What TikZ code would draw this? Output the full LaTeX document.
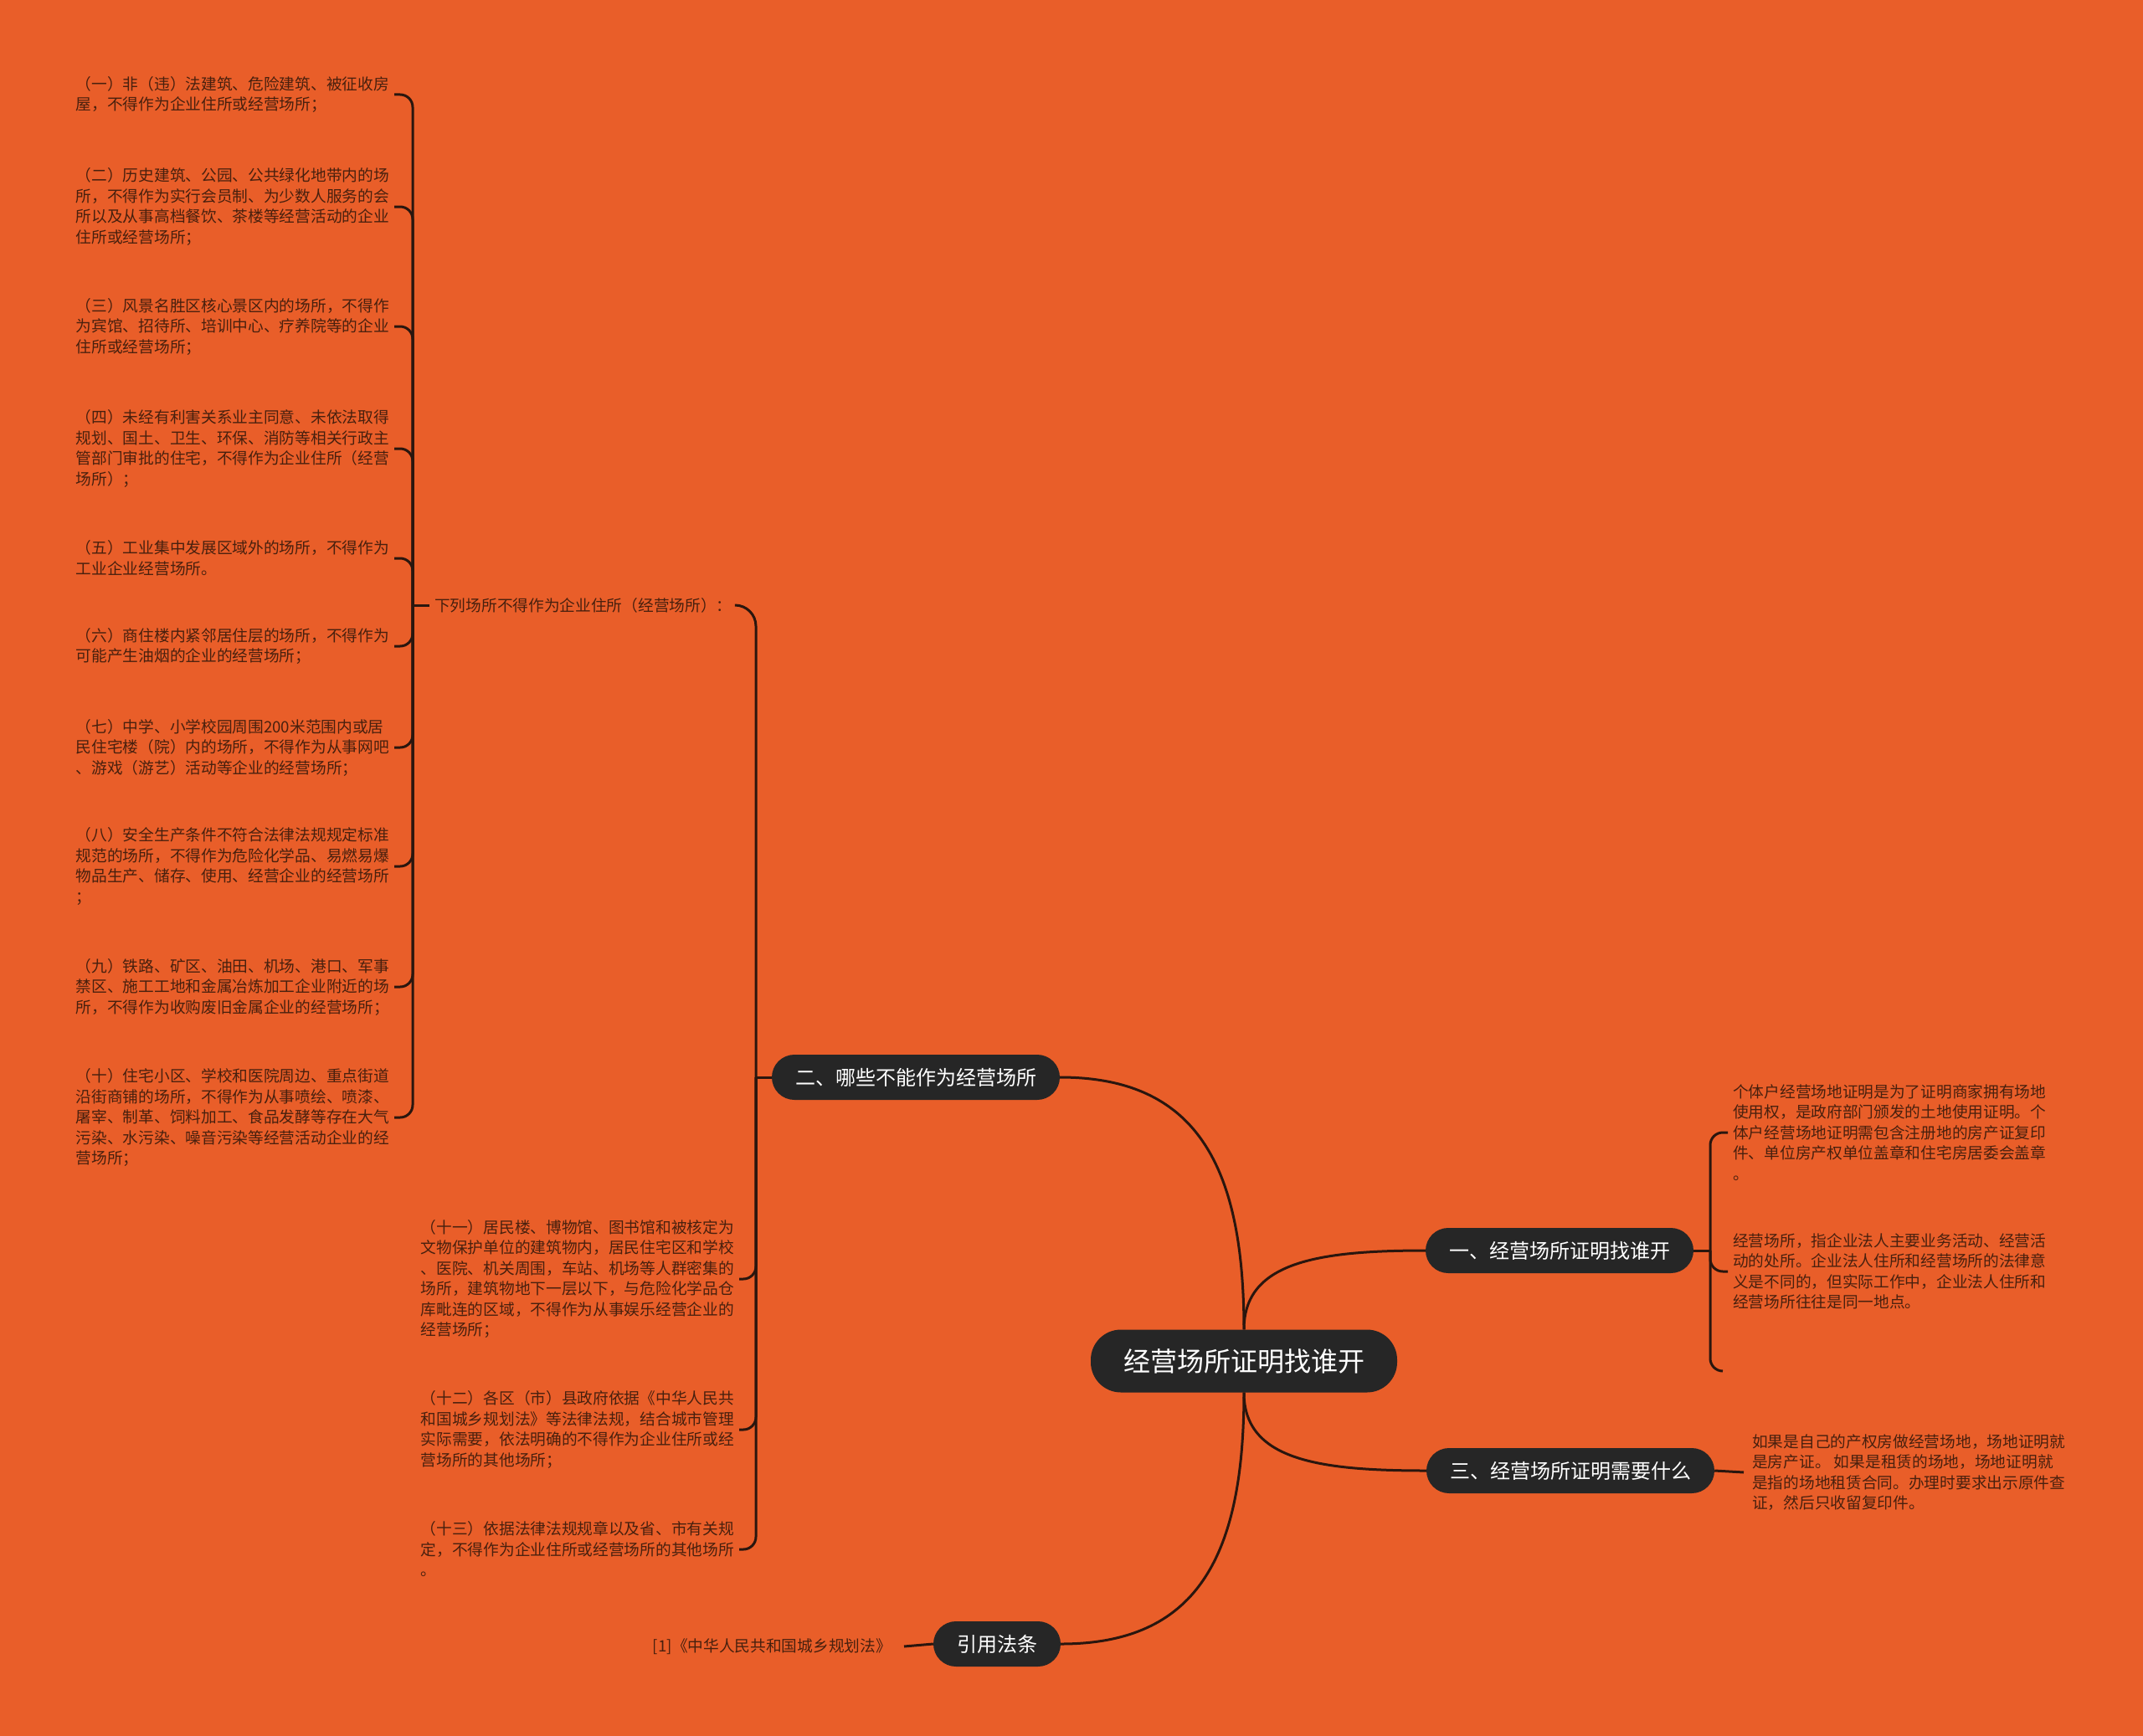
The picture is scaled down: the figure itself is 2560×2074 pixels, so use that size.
\documentclass[tikz,border=0pt]{standalone}
\usepackage{fontspec}
\newfontfamily\cjk{Noto Sans CJK SC}
\definecolor{bgorange}{RGB}{233,94,41}
\definecolor{boxgray}{RGB}{38,38,38}
\definecolor{leafbrown}{RGB}{72,32,14}
\definecolor{linkdark}{RGB}{42,22,14}

\begin{document}
\begin{tikzpicture}[x=1pt,y=-1pt,
  topic/.style={fill=boxgray,text=white,rounded corners=27pt,minimum height=54pt,inner xsep=28pt,font=\cjk\fontsize{24}{28}\selectfont},
  leaf/.style={text=leafbrown,align=left,inner xsep=6pt,inner ysep=0pt,font=\cjk\fontsize{18.7}{24.5}\selectfont},
  link/.style={draw=linkdark,line width=3pt,rounded corners=15pt}]
\useasboundingbox (0,0) rectangle (2560,2074);
\path[fill=bgorange] (0,0) rectangle (2560,2074);

% main topic and branches
\node[topic,rounded corners=36pt,minimum height=75pt,inner xsep=39pt,font=\cjk\fontsize{32}{36}\selectfont] (root) at (1486,1626) {经营场所证明找谁开};
\node[topic] (erbr) at (1094,1287) {二、哪些不能作为经营场所};
\node[topic] (yibr) at (1863,1494) {一、经营场所证明找谁开};
\node[topic] (sanbr) at (1876,1757) {三、经营场所证明需要什么};
\node[topic] (refbr) at (1191,1964) {引用法条};

\draw[link] (erbr.east) .. controls +(160,0) and +(0,-200) .. (root.north);
\draw[link] (root.north) .. controls +(0,-80) and +(-130,0) .. (yibr.west);
\draw[link] (root.south) .. controls +(0,80) and +(-130,0) .. (sanbr.west);
\draw[link] (refbr.east) .. controls +(160,0) and +(0,200) .. (root.south);

% branch two
\coordinate (hubB) at (903,1287);
\node[leaf,anchor=west] (xialie) at (513,723) {下列场所不得作为企业住所（经营场所）：};
\node[leaf,anchor=east] (s11) at (883,1528) {（十一）居民楼、博物馆、图书馆和被核定为\\文物保护单位的建筑物内，居民住宅区和学校\\、医院、机关周围，车站、机场等人群密集的\\场所，建筑物地下一层以下，与危险化学品仓\\库毗连的区域，不得作为从事娱乐经营企业的\\经营场所；};
\node[leaf,anchor=east] (s12) at (883,1708) {（十二）各区（市）县政府依据《中华人民共\\和国城乡规划法》等法律法规，结合城市管理\\实际需要，依法明确的不得作为企业住所或经\\营场所的其他场所；};
\node[leaf,anchor=east] (s13) at (883,1851) {（十三）依据法律法规规章以及省、市有关规\\定，不得作为企业住所或经营场所的其他场所\\。};
\draw[link] (erbr.west) -- (hubB);
\draw[link,rounded corners=25pt] (hubB) |- (xialie.east);
\foreach \k in {s11,s12,s13}
  \draw[link] (hubB) |- (\k.east);

% items under xialie
\coordinate (hubA) at (493,723);
\node[leaf,anchor=east] (s1) at (471,113) {（一）非（违）法建筑、危险建筑、被征收房\\屋，不得作为企业住所或经营场所；};
\node[leaf,anchor=east] (s2) at (471,247) {（二）历史建筑、公园、公共绿化地带内的场\\所，不得作为实行会员制、为少数人服务的会\\所以及从事高档餐饮、茶楼等经营活动的企业\\住所或经营场所；};
\node[leaf,anchor=east] (s3) at (471,390) {（三）风景名胜区核心景区内的场所，不得作\\为宾馆、招待所、培训中心、疗养院等的企业\\住所或经营场所；};
\node[leaf,anchor=east] (s4) at (471,536) {（四）未经有利害关系业主同意、未依法取得\\规划、国土、卫生、环保、消防等相关行政主\\管部门审批的住宅，不得作为企业住所（经营\\场所）；};
\node[leaf,anchor=east] (s5) at (471,667) {（五）工业集中发展区域外的场所，不得作为\\工业企业经营场所。};
\node[leaf,anchor=east] (s6) at (471,772) {（六）商住楼内紧邻居住层的场所，不得作为\\可能产生油烟的企业的经营场所；};
\node[leaf,anchor=east] (s7) at (471,893) {（七）中学、小学校园周围200米范围内或居\\民住宅楼（院）内的场所，不得作为从事网吧\\、游戏（游艺）活动等企业的经营场所；};
\node[leaf,anchor=east] (s8) at (471,1035) {（八）安全生产条件不符合法律法规规定标准\\规范的场所，不得作为危险化学品、易燃易爆\\物品生产、储存、使用、经营企业的经营场所\\；};
\node[leaf,anchor=east] (s9) at (471,1179) {（九）铁路、矿区、油田、机场、港口、军事\\禁区、施工工地和金属冶炼加工企业附近的场\\所，不得作为收购废旧金属企业的经营场所；};
\node[leaf,anchor=east] (s10) at (471,1335) {（十）住宅小区、学校和医院周边、重点街道\\沿街商铺的场所，不得作为从事喷绘、喷漆、\\屠宰、制革、饲料加工、食品发酵等存在大气\\污染、水污染、噪音污染等经营活动企业的经\\营场所；};
\draw[link] (xialie.west) -- (hubA);
\foreach \k in {s1,s2,s3,s4,s5,s6,s7,s8,s9,s10}
  \draw[link] (hubA) |- (\k.east);

% branch one
\coordinate (hubC) at (2043,1494);
\coordinate (yiend) at (2058,1638);
\node[leaf,anchor=west] (y1) at (2064,1353) {个体户经营场地证明是为了证明商家拥有场地\\使用权，是政府部门颁发的土地使用证明。个\\体户经营场地证明需包含注册地的房产证复印\\件、单位房产权单位盖章和住宅房居委会盖章\\。};
\node[leaf,anchor=west] (y2) at (2064,1519) {经营场所，指企业法人主要业务活动、经营活\\动的处所。企业法人住所和经营场所的法律意\\义是不同的，但实际工作中，企业法人住所和\\经营场所往往是同一地点。};
\draw[link] (yibr.east) -- (hubC);
\foreach \k in {y1.west,y2.west,yiend}
  \draw[link] (hubC) |- (\k);

% branch three and reference
\node[leaf,anchor=west,inner xsep=10pt] (s3leaf) at (2083,1759) {如果是自己的产权房做经营场地，场地证明就\\是房产证。 如果是租赁的场地，场地证明就\\是指的场地租赁合同。办理时要求出示原件查\\证，然后只收留复印件。};
\draw[link] (sanbr.east) -- (s3leaf.west);
\node[leaf,anchor=east,inner xsep=15pt] (law) at (1080,1967) {[1]《中华人民共和国城乡规划法》};
\draw[link] (refbr.west) -- (law.east);
\end{tikzpicture}
\end{document}
